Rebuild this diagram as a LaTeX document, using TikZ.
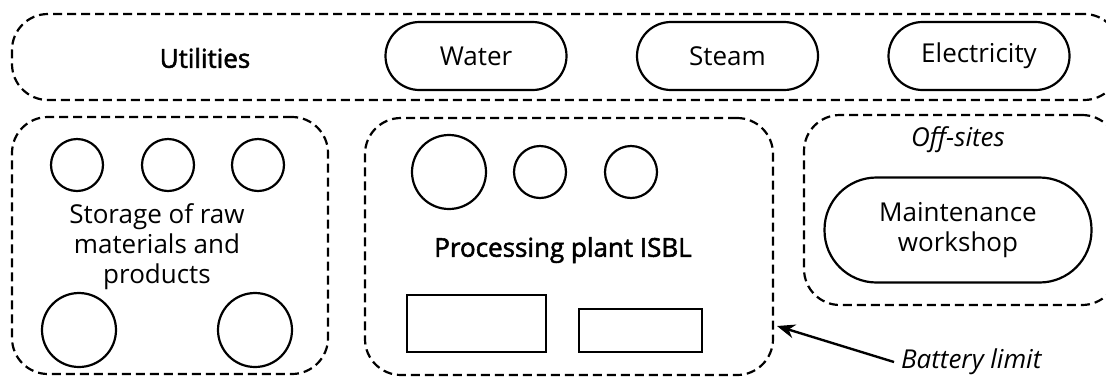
\documentclass[tikz,border=0pt]{standalone}
\usepackage{fontspec}
\setmainfont{Open Sans}
\newfontface\medium{Open Sans}[FakeBold=2]
\usetikzlibrary{arrows.meta}

\begin{document}
\begin{tikzpicture}[x=0.5pt, y=-0.5pt,
  font=\fontsize{13}{15}\selectfont,
  zone/.style={draw, dash pattern=on 4.5pt off 2.5pt, line width=1.1pt, rounded corners=18pt, inner sep=0pt},
  pill/.style={draw, line width=1.1pt, rounded corners=17pt, minimum width=90.5pt, minimum height=34pt},
  tank/.style={draw, circle, line width=1.1pt, inner sep=0pt},
  unit/.style={draw, line width=1.1pt, inner sep=0pt}]

\useasboundingbox (0, 0) rectangle (1106, 376);

\node [zone, minimum width=554pt, minimum height=43pt] (utilities) at (566, 57) {};
\node [zone, minimum width=158pt, minimum height=128.5pt] (storage) at (170, 245.5) {};
\node [zone, minimum width=204pt, minimum height=128.5pt] (isbl) at (569, 246.5) {};
\node [zone, minimum width=157pt, minimum height=95pt] (offsites) at (961, 210) {};

\node [font=\fontsize{13}{15}\medium] (utillabel) at (205, 58) {Utilities};
\node [pill] (water) at (476, 56) {Water};
\node [pill] (steam) at (727.5, 56) {Steam};
\node [pill] (power) at (979, 56) {Electricity};

\node [tank, minimum size=26pt] (s1) at (77, 165) {};
\node [tank, minimum size=26pt] (s2) at (168, 165) {};
\node [tank, minimum size=26pt] (s3) at (258, 165) {};
\node [tank, minimum size=37pt] (s4) at (79, 330) {};
\node [tank, minimum size=37pt] (s5) at (255, 330) {};
\node [align=center] (storlabel) at (157, 247) {Storage of raw\\materials and\\products};

\node [tank, minimum size=37pt] (p1) at (449, 172) {};
\node [tank, minimum size=26pt] (p2) at (540, 172) {};
\node [tank, minimum size=26pt] (p3) at (631, 172) {};
\node [font=\fontsize{13}{15}\medium] (isbllabel) at (563, 250) {Processing plant ISBL};
\node [unit, minimum width=69.5pt, minimum height=28.5pt] (r1) at (476.5, 323.5) {};
\node [unit, minimum width=61.5pt, minimum height=21.5pt] (r2) at (640.5, 330.5) {};

\node [font=\fontsize{13}{15}\selectfont\itshape] (offlabel) at (958, 140) {Off-sites};
\node [pill, rounded corners=26pt, minimum width=133.5pt, minimum height=52.5pt, align=center] (workshop) at (958, 230) {Maintenance\\workshop};

\node [anchor=west, font=\fontsize{13}{15}\selectfont\itshape] (battery) at (894, 362) {Battery limit};
\coordinate (limit) at (777, 326);
\draw [line width=1.2pt, -{Stealth[length=9pt, width=7pt]}] (battery.west) -- (limit);
\end{tikzpicture}
\end{document}
